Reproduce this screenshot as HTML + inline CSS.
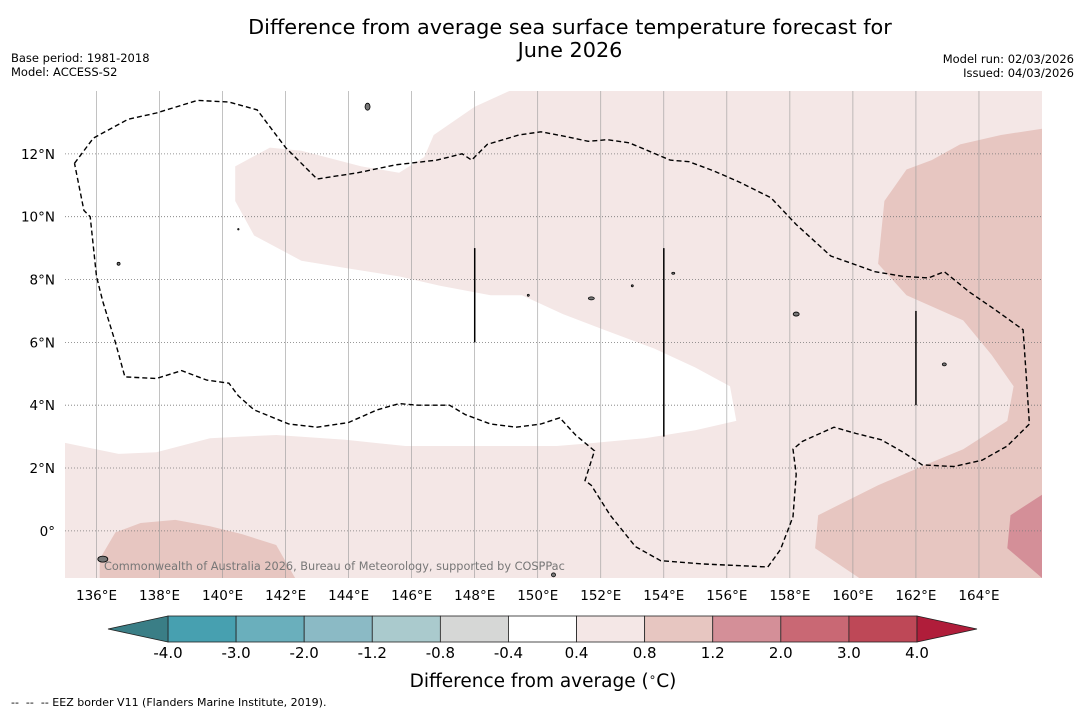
<!DOCTYPE html>
<html><head><meta charset="utf-8"><style>
body{margin:0;background:#fff;width:1085px;height:713px;overflow:hidden;font-family:"Liberation Sans","DejaVu Sans",sans-serif}
svg{position:absolute;left:0;top:0}
</style></head><body>
<svg id="chart" width="1085" height="713" viewBox="0 0 1085 713" xmlns="http://www.w3.org/2000/svg">
<text x="570" y="34" text-anchor="middle" font-size="20.8" font-family="DejaVu Sans,sans-serif">Difference from average sea surface temperature forecast for</text>
<text x="570" y="57" text-anchor="middle" font-size="20.8" font-family="DejaVu Sans,sans-serif">June 2026</text>
<text x="11" y="62" font-size="11.5" font-family="DejaVu Sans,sans-serif">Base period: 1981-2018</text>
<text x="11" y="76" font-size="11.5" font-family="DejaVu Sans,sans-serif">Model: ACCESS-S2</text>
<text x="1074" y="63" text-anchor="end" font-size="11.5" font-family="DejaVu Sans,sans-serif">Model run: 02/03/2026</text>
<text x="1074" y="77" text-anchor="end" font-size="11.5" font-family="DejaVu Sans,sans-serif">Issued: 04/03/2026</text>
<g id="map"></g>
<g id="cbar"></g>
<text x="543" y="687" text-anchor="middle" font-size="18.5" font-family="DejaVu Sans,sans-serif">Difference from average (<tspan font-size="12" dy="-6">∘</tspan><tspan dy="6">C)</tspan></text>
<text x="11" y="706" font-size="11" font-family="DejaVu Sans,sans-serif" xml:space="preserve">--  --  -- EEZ border V11 (Flanders Marine Institute, 2019).</text>
</svg>
<script>
const NS="http://www.w3.org/2000/svg";
const lonTicks=[136,138,140,142,144,146,148,150,152,154,156,158,160,162,164];
const latTicks=[0,2,4,6,8,10,12];
const levels=[-4.0,-3.0,-2.0,-1.2,-0.8,-0.4,0.4,0.8,1.2,2.0,3.0,4.0];
const levelLabels=["-4.0","-3.0","-2.0","-1.2","-0.8","-0.4","0.4","0.8","1.2","2.0","3.0","4.0"];
const levelColors=["#47a0b0","#6aafbc","#8bbac5","#aacacd","#d6d7d6","#ffffff","#f4e7e6","#e7c6c1","#d48f98","#c96874","#be4857"];
const extColors=["#3a7e86","#b01d3a"];
const whiteRegion=[[135,14],[149.1,14],[148,13.5],[146.7,12.6],[146.4,11.9],[145.6,11.4],[144.4,11.6],[142.5,12.1],[141.5,12.2],[140.4,11.6],[140.4,10.5],[141,9.4],[142.5,8.6],[144,8.35],[145.6,8.1],[146.9,7.8],[148.5,7.5],[149.5,7.5],[150.8,6.9],[152.1,6.4],[153.7,5.8],[155,5.2],[156.1,4.6],[156.3,3.5],[155,3.2],[153.4,2.95],[151.8,2.8],[150.6,2.7],[145.8,2.7],[143.9,2.9],[141.7,3.05],[140.6,3.0],[139.6,2.95],[137.9,2.5],[136.7,2.45],[135,2.8]];
const pinkRegion=[[166,12.8],[164.7,12.6],[163.4,12.3],[162.5,11.8],[161.7,11.5],[161,10.5],[160.8,8.5],[161.7,7.5],[163.5,6.7],[164.4,5.6],[165.1,4.6],[164.9,3.5],[163.5,2.6],[162.3,2.1],[160.8,1.45],[158.9,0.5],[158.8,-0.55],[160.2,-1.5],[166,-1.5]];
const pinkRegion2=[[136.1,-0.9],[136.6,-0.05],[137.4,0.25],[138.5,0.35],[139.6,0.15],[140.6,-0.1],[141.7,-0.45],[142.3,-1.5],[136.1,-1.5]];
const redRegion=[[166,1.15],[165,0.5],[164.9,-0.55],[166,-1.5]];
const eezLine=[[135.3,11.7],[135.9,12.5],[137,13.1],[137.9,13.3],[139.2,13.7],[140.2,13.65],[141.1,13.4],[142,12.2],[143,11.2],[144.3,11.4],[145.5,11.65],[146.8,11.8],[147.6,12],[147.9,11.8],[148.4,12.3],[149.4,12.6],[150.1,12.7],[150.9,12.55],[151.6,12.4],[152.2,12.45],[152.9,12.35],[153.5,12.1],[154.2,11.8],[154.8,11.75],[155.6,11.45],[156.4,11.1],[157.4,10.6],[158.2,9.75],[159.3,8.75],[160.7,8.25],[161.6,8.1],[162.4,8.05],[162.9,8.25],[163.7,7.6],[164.5,7.05],[165.4,6.4],[165.5,4.95],[165.6,3.4],[164.9,2.7],[164.1,2.25],[163.2,2.05],[162.2,2.1],[161.6,2.5],[160.9,2.9],[160.1,3.1],[159.4,3.3],[158.4,2.85],[158.1,2.6],[158.2,1.8],[158.1,0.45],[157.7,-0.6],[157.3,-1.15],[155.2,-1.05],[153.9,-0.95],[153.1,-0.5],[152.3,0.5],[151.7,1.45],[151.5,1.6],[151.8,2.55],[151.2,3.05],[150.7,3.6],[150.1,3.4],[149.3,3.3],[148.5,3.4],[147.7,3.7],[147.2,4.0],[146.2,4.0],[145.6,4.05],[144.9,3.85],[144.0,3.45],[143.0,3.3],[142.1,3.4],[141.0,3.85],[140.5,4.3],[140.2,4.7],[139.5,4.8],[138.7,5.1],[137.9,4.85],[136.9,4.9],[136.6,6.0],[136.2,7.3],[136.0,8.1],[135.8,10.0],[135.6,10.2],[135.3,11.7]];
const vLines=[[148,9],[148,6],[154,9],[154,3],[162,7],[162,4]];
const islands=[[144.6,13.5,2.5,3.5],[150.5,-1.4,2,2],[136.2,-0.9,5,3],[158.2,6.9,3,2],[162.9,5.3,2,1.5],[153,7.8,1,1],[136.7,8.5,1.5,1.5],[140.5,9.6,0.7,0.7],[149.7,7.5,1,1],[151.7,7.4,3,1.5],[154.3,8.2,1.5,1]];

const X0=65,X1=1042,Y0=91,Y1=578,LON0=135,LON1=166,LAT0=-1.5,LAT1=14;
const xs=l=>X0+(l-LON0)/(LON1-LON0)*(X1-X0);
const ys=l=>Y1-(l-LAT0)/(LAT1-LAT0)*(Y1-Y0);
const map=document.getElementById('map');
function mk(tag,attrs,parent){const e=document.createElementNS(NS,tag);for(const k in attrs)e.setAttribute(k,attrs[k]);(parent||map).appendChild(e);return e;}
const pts=a=>a.map(p=>xs(p[0]).toFixed(1)+','+ys(p[1]).toFixed(1)).join(' ');
let bg=mk('rect',{x:X0,y:Y0,width:X1-X0,height:Y1-Y0,fill:levelColors[6]});


let w=mk('polygon',{points:pts(whiteRegion),fill:levelColors[5]});


for(const r of [pinkRegion,pinkRegion2]){let p=mk('polygon',{points:pts(r),fill:levelColors[7]});

}
let rr=mk('polygon',{points:pts(redRegion),fill:levelColors[8]});


for(const l of lonTicks){let g=mk('line',{x1:xs(l),x2:xs(l),y1:Y0,y2:Y1,stroke:'#999',"stroke-width":0.6});


let t=mk('text',{x:xs(l),y:600,"text-anchor":"middle","font-size":13.5,"font-family":"DejaVu Sans,sans-serif"});t.textContent=l+'°E';

}
for(const l of latTicks){let g=mk('line',{x1:X0,x2:X1,y1:ys(l),y2:ys(l),stroke:'#777',"stroke-width":0.8,"stroke-dasharray":"1,2"});


let t=mk('text',{x:55,y:ys(l)+5,"text-anchor":"end","font-size":13.5,"font-family":"DejaVu Sans,sans-serif"});t.textContent=l===0?'0°':l+'°N';

}
for(const s of islands){let e=mk('ellipse',{cx:xs(s[0]),cy:ys(s[1]),rx:s[2],ry:s[3],fill:'#777',stroke:'#000',"stroke-width":0.8});

}
let eez=mk('polyline',{points:pts(eezLine),fill:'none',stroke:'#000',"stroke-width":1.4,"stroke-dasharray":"5,3"});


for(let i=0;i<vLines.length;i+=2){let l=mk('line',{x1:xs(vLines[i][0]),x2:xs(vLines[i+1][0]),y1:ys(vLines[i][1]),y2:ys(vLines[i+1][1]),stroke:'#000',"stroke-width":1.5});

}
let cr=mk('text',{x:104,y:570,"font-size":11.3,fill:'#777',"font-family":"DejaVu Sans,sans-serif"});cr.textContent='Commonwealth of Australia 2026, Bureau of Meteorology, supported by COSPPac';


const cb=document.getElementById('cbar');
const CB0=168,CB1=917,CBY=616,CBH=26;
const cx=v=>CB0+levels.indexOf(v)*(CB1-CB0)/(levels.length-1);
for(let i=0;i<levelColors.length;i++){let r=mk('rect',{x:cx(levels[i]),y:CBY,width:cx(levels[i+1])-cx(levels[i]),height:CBH,fill:levelColors[i],stroke:'#222',"stroke-width":0.8},cb);

}
let lt=mk('polygon',{points:`${CB0},${CBY} 108,${CBY+CBH/2} ${CB0},${CBY+CBH}`,fill:extColors[0],stroke:'#222',"stroke-width":0.8},cb);


let rt=mk('polygon',{points:`${CB1},${CBY} 977,${CBY+CBH/2} ${CB1},${CBY+CBH}`,fill:extColors[1],stroke:'#222',"stroke-width":0.8},cb);


levels.forEach((v,i)=>{let t=mk('text',{x:cx(v),y:658,"text-anchor":"middle","font-size":15,"font-family":"DejaVu Sans,sans-serif"},cb);t.textContent=levelLabels[i];

});
</script>
</body></html>
